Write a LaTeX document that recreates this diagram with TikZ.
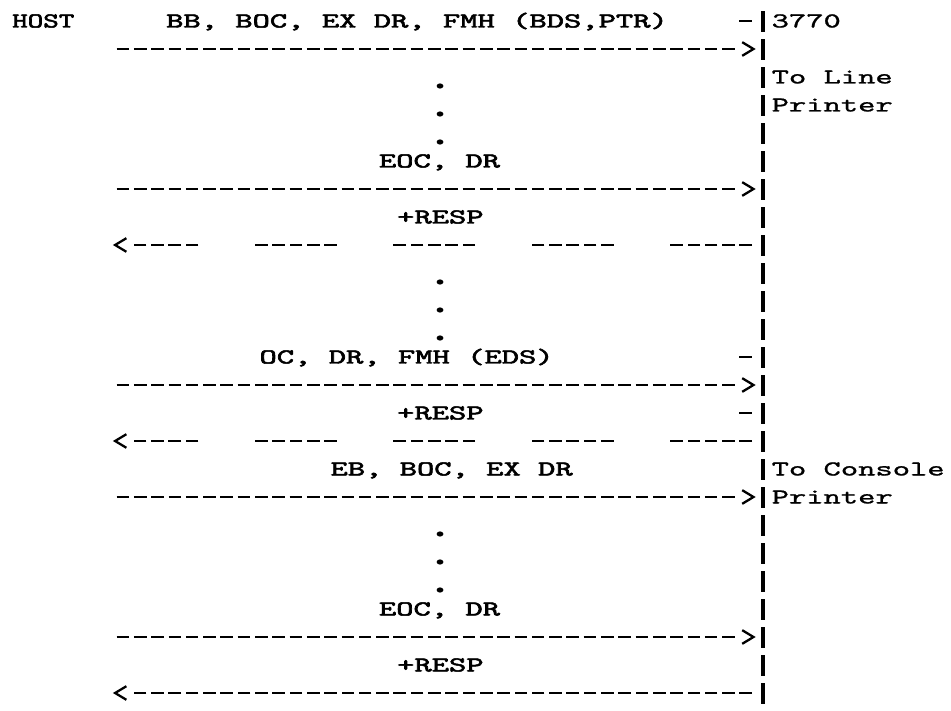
\documentclass[tikz,border=0pt]{standalone}
\usepackage{graphicx}
\usepackage{fontspec}
\usetikzlibrary{decorations.markings}
\newfontfamily\twbold{lmmono10-regular}[Extension=.otf, FakeBold=2.2]
\newfontfamily\twreg{lmmono10-regular}[Extension=.otf, FakeBold=0.9]
\newcommand\twsize{\fontsize{21.3}{21.3}\selectfont}
\newcommand\tw[1]{\scalebox{1.547}[1]{\twbold\twsize #1}}
\newcommand\twm[1]{\scalebox{1.547}[1]{\twreg\twsize #1}}
\newcommand\hostt[1]{\scalebox{1.39}[1]{\twbold\twsize #1}}
\tikzset{
  lbl/.style={anchor=base west, inner sep=0pt, outer sep=0pt, yshift=-6.5pt},
  dashln/.style={line width=2.8pt, dash pattern=on 12.6pt off 4.7pt},
  gapln/.style={line width=2.8pt, dash pattern=on 12.6pt off 4.7pt on 12.6pt off 4.7pt on 12.6pt off 4.7pt on 12.6pt off 4.7pt on 12.6pt off 56.6pt},
  tipend/.style={postaction=decorate, decoration={markings, mark=at position 1 with {\draw[solid, line width=2.3pt, line join=miter, line cap=butt] (7.5pt,6.8pt) -- (18.8pt,0pt) -- (7.5pt,-6.8pt);}}},
  barln/.style={line width=3.4pt, dash pattern=on 21pt off 7pt},
  dotm/.style={fill=black}
}
\begin{document}
\begin{tikzpicture}[x=17.3pt, y=-28pt, shift={(763pt,7pt)}]
\useasboundingbox (-763pt,-7pt) rectangle (188pt,-718pt);
\fill[white] (-763pt,-7pt) rectangle (188pt,-718pt);

% lifeline of the 3770
\coordinate (bartop) at (0,0.643);
\coordinate (barbot) at (0,25.43);
\draw[barln] (bartop) -- (barbot);

% labels
\node[lbl] (host) at (-43.4,1) {\hostt{HOST}};
\node[lbl] (m1) at (-34.5,1) {\tw{BB, BOC, EX DR, FMH (BDS,PTR)}};
\node[lbl] (n3770) at (0.5,1) {\twm{3770}};
\node[lbl] (lp1) at (0.5,3) {\twm{To Line}};
\node[lbl] (lp2) at (0.5,4) {\twm{Printer}};
\node[lbl] (m6) at (-22.2,6) {\tw{EOC, DR}};
\node[lbl] (m8) at (-21.15,8) {\tw{+RESP}};
\node[lbl] (m13) at (-29.1,13) {\tw{OC, DR, FMH (EDS)}};
\node[lbl] (m15) at (-21.15,15) {\tw{+RESP}};
\node[lbl] (m17) at (-25,17) {\tw{EB, BOC, EX DR}};
\node[lbl] (cp1) at (0.5,17) {\twm{To Console}};
\node[lbl] (cp2) at (0.5,18) {\twm{Printer}};
\node[lbl] (m22) at (-22.2,22) {\tw{EOC, DR}};
\node[lbl] (m24) at (-21.15,24) {\tw{+RESP}};

% short ticks before the lifeline
\foreach \r in {1,13,15} {
  \coordinate (ta\r) at (-1.364,\r);
  \coordinate (tb\r) at (-0.636,\r);
  \draw[dashln] (ta\r) -- (tb\r);
}

% forward messages host -> 3770
\foreach \r in {2,7,14,18,23} {
  \coordinate (fs\r) at (-37.364,\r);
  \coordinate (fe\r) at (-1.636,\r);
  \draw[dashln, tipend] (fs\r) -- (fe\r);
}

% responses 3770 -> host
\foreach \r in {9,16} {
  \coordinate (bs\r) at (-0.636,\r);
  \coordinate (be\r) at (-36.364,\r);
  \draw[gapln, tipend] (bs\r) -- (be\r);
}
\coordinate (bs25) at (-0.636,25);
\coordinate (be25) at (-36.364,25);
\draw[dashln, tipend] (bs25) -- (be25);

% continuation dots
\foreach \r in {3,4,5,10,11,12,19,20,21} {
  \fill[dotm] ([yshift=-9pt]-18.67,\r) ellipse (3.4pt and 2.6pt);
}
\end{tikzpicture}
\end{document}
